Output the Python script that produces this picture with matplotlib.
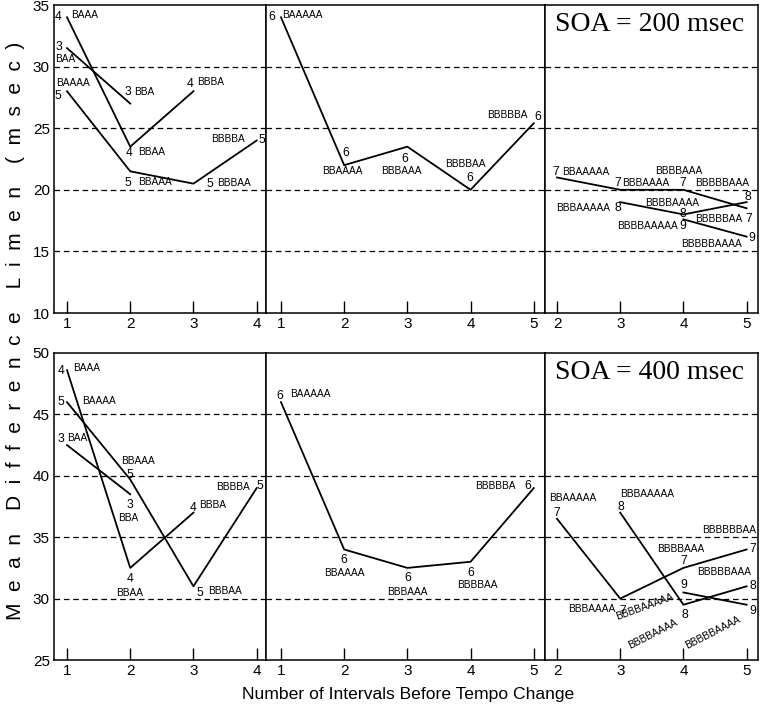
import matplotlib
matplotlib.use("Agg")
from matplotlib import pyplot as plt

plt.rcParams['font.family'] = ['Liberation Sans', 'DejaVu Sans']

# number of intervals before the tempo change, per sequence length
intervals = {3: [1, 2], 4: [1, 2, 3], 5: [1, 2, 3, 4], 6: [1, 2, 3, 4, 5],
             7: [2, 3, 4, 5], 8: [3, 4, 5], 9: [4, 5]}

# mean difference limen (msec), SOA = 200 msec
dl_200 = {3: [31.5, 27.0], 4: [34.0, 23.5, 28.0], 5: [28.0, 21.5, 20.5, 24.0],
          6: [34.0, 22.0, 23.5, 20.0, 25.4], 7: [21.0, 20.0, 20.0, 18.5],
          8: [19.0, 18.0, 19.0], 9: [17.6, 16.2]}

# mean difference limen (msec), SOA = 400 msec
dl_400 = {3: [42.5, 38.5], 4: [48.6, 32.5, 37.0], 5: [46.0, 39.7, 31.0, 39.0],
          6: [46.0, 34.0, 32.5, 33.0, 39.0], 7: [36.5, 30.0, 32.5, 34.0],
          8: [37.0, 29.5, 31.0], 9: [30.5, 29.5]}

panel_series = [[3, 4, 5], [6], [7, 8, 9]]
panel_xticks = [[1, 2, 3, 4], [1, 2, 3, 4, 5], [2, 3, 4, 5]]
soa_titles = ["SOA = 200 msec", "SOA = 400 msec"]
ylims = [(10, 35), (25, 50)]
yticks = [[10, 15, 20, 25, 30, 35], [25, 30, 35, 40, 45, 50]]
grid_levels = [[15, 20, 25, 30], [30, 35, 40, 45]]

# labels: (series, x, text, dx px, dy px, ha, rotation)
labels_200 = [
    (4, 1, "4", -9, 0, "center", 0), (4, 1, "BAAA", 4, 2, "left", 0),
    (4, 2, "4", -1, -6, "center", 0), (4, 2, "BBAA", 8, -5, "left", 0),
    (4, 3, "4", -3, 7, "center", 0), (4, 3, "BBBA", 4, 9, "left", 0),
    (3, 1, "3", -8, 1, "center", 0), (3, 1, "BAA", -12, -11, "left", 0),
    (3, 2, "3", -2, 12, "center", 0), (3, 2, "BBA", 4, 12, "left", 0),
    (5, 1, "BAAAA", -11, 8, "left", 0), (5, 1, "5", -9, -5, "center", 0),
    (5, 2, "5", -2, -12, "center", 0), (5, 2, "BBAAA", 8, -11, "left", 0),
    (5, 3, "5", 16, 0, "center", 0), (5, 3, "BBBAA", 24, 1, "left", 0),
    (5, 4, "BBBBA", -12, 2, "right", 0), (5, 4, "5", 5, 1, "center", 0),
    (6, 1, "6", -9, 0, "center", 0), (6, 1, "BAAAAA", 1, 2, "left", 0),
    (6, 2, "6", 2, 12, "center", 0), (6, 2, "BBAAAA", -2, -6, "center", 0),
    (6, 3, "6", -3, -12, "center", 0), (6, 3, "BBBAAA", -6, -24, "center", 0),
    (6, 4, "BBBBAA", -5, 26, "center", 0), (6, 4, "6", -1, 12, "center", 0),
    (6, 5, "BBBBBA", -6, 8, "right", 0), (6, 5, "6", 4, 6, "center", 0),
    (7, 2, "7", -1, 5, "center", 0), (7, 2, "BBAAAAA", 5, 5, "left", 0),
    (7, 3, "7", -2, 7, "center", 0), (7, 3, "BBBAAAA", 2, 7, "left", 0),
    (7, 4, "BBBBAAA", -5, 19, "center", 0), (7, 4, "7", -1, 7, "center", 0),
    (7, 5, "7", 2, -11, "center", 0), (7, 5, "BBBBBAA", -4, -11, "right", 0),
    (8, 3, "8", -2, -6, "center", 0), (8, 3, "BBBAAAAA", -10, -6, "right", 0),
    (8, 4, "8", -1, 0, "center", 0), (8, 4, "BBBBAAAA", -11, 11, "center", 0),
    (8, 5, "8", 1, 5, "center", 0), (8, 5, "BBBBBAAA", -24, 19, "center", 0),
    (9, 4, "9", -1, -7, "center", 0), (9, 4, "BBBBAAAAA", -6, -7, "right", 0),
    (9, 5, "9", 5, -1, "center", 0), (9, 5, "BBBBBAAAA", -35, -7, "center", 0),
]

labels_400 = [
    (4, 1, "4", -6, -1, "center", 0), (4, 1, "BAAA", 6, 2, "left", 0),
    (4, 2, "4", 0, -11, "center", 0), (4, 2, "BBAA", -1, -25, "center", 0),
    (4, 3, "4", 0, 5, "center", 0), (4, 3, "BBBA", 6, 8, "left", 0),
    (5, 1, "5", -6, 0, "center", 0), (5, 1, "BAAAA", 15, 1, "left", 0),
    (5, 2, "BBAAA", 8, 18, "center", 0), (5, 2, "5", 0, 4, "center", 0),
    (5, 3, "5", 6, -7, "center", 0), (5, 3, "BBBAA", 15, -5, "left", 0),
    (5, 4, "BBBBA", -7, 1, "right", 0), (5, 4, "5", 3, 2, "center", 0),
    (3, 1, "3", -6, 6, "center", 0), (3, 1, "BAA", 0, 7, "left", 0),
    (3, 2, "3", 0, -11, "center", 0), (3, 2, "BBA", -2, -24, "center", 0),
    (6, 1, "6", -1, 6, "center", 0), (6, 1, "BAAAAA", 9, 8, "left", 0),
    (6, 2, "6", 0, -11, "center", 0), (6, 2, "BBAAAA", 0, -24, "center", 0),
    (6, 3, "6", 0, -10, "center", 0), (6, 3, "BBBAAA", 0, -24, "center", 0),
    (6, 4, "6", 0, -11, "center", 0), (6, 4, "BBBBAA", 7, -23, "center", 0),
    (6, 5, "BBBBBA", -18, 2, "right", 0), (6, 5, "6", -6, 2, "center", 0),
    (7, 2, "BBAAAAA", 16, 21, "center", 0), (7, 2, "7", 0, 6, "center", 0),
    (7, 3, "7", 3, -12, "center", 0), (7, 3, "BBBAAAA", -5, -10, "right", 0),
    (7, 4, "7", 0, 7, "center", 0), (7, 4, "BBBBAAA", -3, 19, "center", 0),
    (7, 5, "7", 6, 0, "center", 0), (7, 5, "BBBBBBAA", -17, 19, "center", 0),
    (8, 3, "8", 1, 6, "center", 0), (8, 3, "BBBAAAAA", 27, 19, "center", 0),
    (8, 4, "8", 1, -10, "center", 0), (8, 4, "BBBBAAAA", -31, -29, "center", 27),
    (8, 5, "8", 6, 0, "center", 0), (8, 5, "BBBBBAAA", -22, 14, "center", 0),
    (9, 4, "9", 0, 7, "center", 0), (9, 4, "BBBBAAAAA", -39, -14, "center", 20),
    (9, 5, "9", 6, -6, "center", 0), (9, 5, "BBBBBAAAA", -34, -28, "center", 27),
]

W, H = 761, 710
col_px = [(54, 266), (266, 545), (545, 758)]
row_px = [(5, 313), (353, 660)]
xlims = [(0.794, 4.148), (0.763, 5.178), (1.81, 5.18)]

fig = plt.figure(figsize=(W / 100, H / 100), dpi=100)

for r, (data, labels) in enumerate([(dl_200, labels_200), (dl_400, labels_400)]):
    y0, y1 = row_px[r]
    for c in range(3):
        x0, x1 = col_px[c]
        ax = fig.add_axes([x0 / W, 1 - y1 / H, (x1 - x0) / W, (y1 - y0) / H])
        ax.set_xlim(*xlims[c])
        ax.set_ylim(*ylims[r])
        for lev in grid_levels[r]:
            ax.axhline(lev, color='black', lw=0.9, ls=(0, (4.5, 3)), zorder=1)
        for s in panel_series[c]:
            ax.plot(intervals[s], data[s], color='black', lw=1.3, zorder=2)
        for s, xv, txt, dx, dy, ha, rot in labels:
            if s not in panel_series[c]:
                continue
            yv = data[s][intervals[s].index(xv)]
            size = 8.7 if txt.isdigit() else 7.3
            ax.annotate(txt, (xv, yv), xytext=(dx, dy), textcoords='offset pixels',
                        ha=ha, va='center', fontsize=size, rotation=rot,
                        rotation_mode='anchor', zorder=3)
        ax.set_xticks(panel_xticks[c])
        ax.tick_params(axis='x', direction='in', length=8.5, width=1, pad=3,
                       labelsize=11)
        if c == 0:
            ax.set_yticks(yticks[r])
            ax.tick_params(axis='y', length=0, pad=3, labelsize=11)
        else:
            ax.set_yticks([])
        for sp in ax.spines.values():
            sp.set_linewidth(1.1)
        if c == 2:
            ax.text(0.49, 0.937, soa_titles[r], transform=ax.transAxes,
                    ha='center', va='center', fontsize=20,
                    family='Liberation Serif')

ylabel = "    ".join("  ".join(w) for w in "Mean Difference Limen (msec)".split())
fig.text(16 / W, 1 - 331 / H, ylabel, rotation=90, ha='center', va='center',
         fontsize=15)
fig.text(408 / W, 1 - 695 / H, "Number of Intervals Before Tempo Change",
         ha='center', va='center', fontsize=12.6)

fig.savefig("out.png", dpi=100)
